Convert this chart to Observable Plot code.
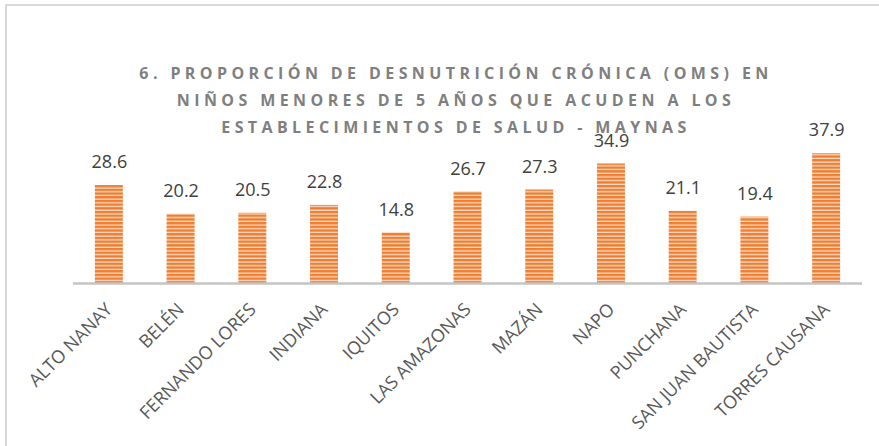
<!DOCTYPE html>
<html>
<head>
<meta charset="utf-8">
<script src="https://cdn.jsdelivr.net/npm/d3@7"></script>
<script src="https://cdn.jsdelivr.net/npm/@observablehq/plot@0.6"></script>
<style>
  html, body { margin: 0; padding: 0; background: #fff; }
  #wrap { position: relative; width: 879px; height: 446px; overflow: hidden; }
  #frame { position: absolute; left: 5px; top: 4px; width: 880px; height: 450px;
           border-top: 2px solid #d9d9d9; border-left: 2px solid #d9d9d9; box-sizing: border-box; }
  #title { position: absolute; left: 56px; width: 800px; top: 60px; text-align: center;
           font-family: "Open Sans", sans-serif; font-weight: bold; font-size: 16px;
           letter-spacing: 4.4px; line-height: 27px; color: #7f7f7f; z-index: 2; }
  #chart { position: absolute; left: 0; top: 0; }
</style>
</head>
<body>
<div id="wrap">
  <div id="frame"></div>
  <div id="chart"></div>
  <div id="title">6. PROPORCIÓN DE DESNUTRICIÓN CRÓNICA (OMS) EN<br>NIÑOS MENORES DE 5 AÑOS QUE ACUDEN A LOS<br>ESTABLECIMIENTOS DE SALUD - MAYNAS</div>
</div>
<script>
const districts = ["ALTO NANAY", "BELÉN", "FERNANDO LORES", "INDIANA", "IQUITOS", "LAS AMAZONAS", "MAZÁN", "NAPO", "PUNCHANA", "SAN JUAN BAUTISTA", "TORRES CAUSANA"];
const values = [28.6, 20.2, 20.5, 22.8, 14.8, 26.7, 27.3, 34.9, 21.1, 19.4, 37.9];

const data = districts.map((d, i) => ({district: d, value: values[i]}));

const chart = Plot.plot({
  width: 879,
  height: 446,
  marginLeft: 73,
  marginRight: 17,
  marginTop: 146,
  marginBottom: 163,
  style: {fontFamily: "Open Sans, sans-serif", background: "transparent"},
  x: {domain: districts, paddingInner: 0.61, paddingOuter: 0.305, round: false, label: null},
  y: {domain: [0, 40], axis: null},
  marks: [
    Plot.barY(data, {x: "district", y: "value", fill: "url(#stripes)"}),
    Plot.ruleY([0], {stroke: "#c4c4c4", strokeWidth: 2.5}),
    Plot.text(data, {x: "district", y: "value", text: d => d.value.toFixed(1), dy: -23, fontSize: 18, fill: "#404040"}),
    Plot.axisX({tickRotate: -45, tickSize: 0, tickPadding: 23, fontSize: 18, color: "#595959", label: null})
  ]
});

const ns = "http://www.w3.org/2000/svg";
const defs = document.createElementNS(ns, "defs");
defs.innerHTML = `<pattern id="stripes" patternUnits="userSpaceOnUse" width="8" height="3.7">
  <rect x="0" y="0" width="8" height="3.7" fill="#ED7D31"></rect>
  <rect x="0" y="2.4" width="8" height="1.3" fill="#FBDCC6"></rect>
</pattern>`;
chart.insertBefore(defs, chart.firstChild);
document.getElementById("chart").appendChild(chart);
</script>
</body>
</html>
